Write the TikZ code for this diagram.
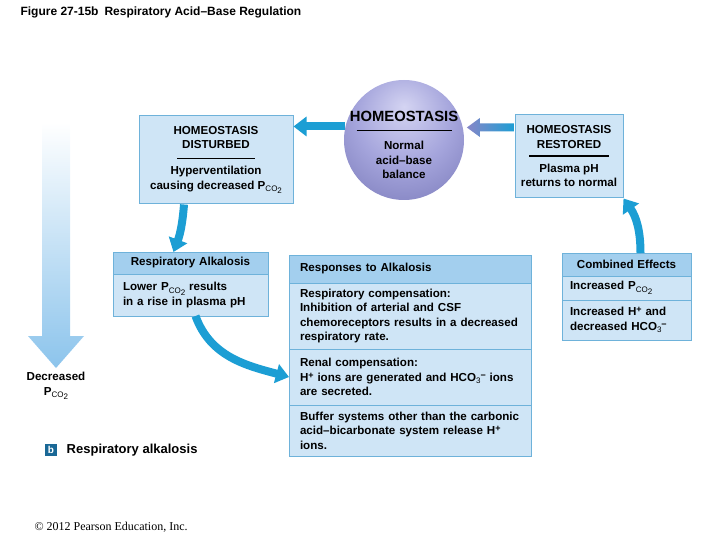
\documentclass[tikz,border=0pt]{standalone}
\usepackage{fontspec}
\setmainfont{Liberation Sans}
\newfontfamily\seriffont{Liberation Serif}
\usetikzlibrary{arrows.meta,positioning,calc,shadings}
\definecolor{boxblue}{RGB}{207,229,246}
\definecolor{headblue}{RGB}{163,207,238}
\definecolor{edgeblue}{RGB}{110,178,218}
\definecolor{flowblue}{RGB}{28,158,212}
\definecolor{sphhi}{RGB}{212,212,242}
\definecolor{sphmid}{RGB}{165,165,220}
\definecolor{sphedge}{RGB}{105,105,172}
\definecolor{arrowpurple}{RGB}{135,135,200}
\definecolor{fadeblue}{RGB}{140,196,236}
\definecolor{tagblue}{RGB}{26,104,150}
\pgfdeclareradialshading{sphere}{\pgfpoint{0bp}{14bp}}{color(0bp)=(sphhi); color(20bp)=(sphmid); color(48bp)=(sphedge); color(64bp)=(sphedge)}
\newcommand{\pcotwo}{P\raisebox{-2.5pt}{\footnotesize\mdseries CO\raisebox{-2pt}{2}}}
\newcommand{\hplus}{H\raisebox{3pt}{\small +}}
\newcommand{\hcothree}{HCO\raisebox{-2.5pt}{\footnotesize\mdseries 3}\raisebox{3pt}{\small −}}

\begin{document}
\begin{tikzpicture}[x=1pt,y=1pt,
          font=\fontsize{11.6}{14.5}\selectfont\bfseries,
          box/.style={draw=edgeblue,fill=boxblue,line width=1pt,align=center,inner sep=0pt},
          row/.style={draw=edgeblue,fill=boxblue,line width=1pt,anchor=north west,
                      align=left,outer sep=0pt,inner ysep=0pt},
          hdr/.style={row,fill=headblue},
          flow/.style={-{Triangle[width=19pt,length=13pt]},line width=8pt,flowblue}
        ]
        \useasboundingbox (0,0) rectangle (720,-540);
        \node[anchor=west,font=\fontsize{12}{14}\selectfont\bfseries] (title) at (17,-12)
             {Figure 27-15b\enspace Respiratory Acid–Base Regulation};

        \node[circle,minimum size=120pt,inner sep=-20pt,shading=sphere,align=center] (home) at (404,-140)
             {\fontsize{14.8}{16}\selectfont\rule{0pt}{21pt}HOMEOSTASIS\\[-5pt]\rule{95pt}{1.6pt}\\[4pt]Normal\\acid–base\\balance};
        \node[box,minimum width=154pt,minimum height=88pt] (dist) at (216,-160)
             {HOMEOSTASIS\\DISTURBED\\[-4pt]\rule{78pt}{1.6pt}\\[1pt]Hyperventilation\\causing decreased \pcotwo};
        \node[box,minimum width=108pt,minimum height=83pt] (restored) at (569,-156.5)
             {HOMEOSTASIS\\RESTORED\\[-6pt]\rule{80pt}{1.6pt}\\[1pt]Plasma pH\\returns to normal};

        \node[hdr,align=center,text width=155pt,minimum height=22pt,inner xsep=0pt] (alkhead) at (113,-252) {Respiratory Alkalosis};
        \node[row,text width=135pt,minimum height=42pt,inner xsep=10pt] (alkbody) at (alkhead.south west)
             {Lower \pcotwo{} results\\in a rise in plasma pH};

        \node[hdr,text width=220pt,minimum height=28pt,inner xsep=11pt] (rhead) at (289,-255) {Responses to Alkalosis};
        \node[row,text width=220pt,minimum height=66pt,inner xsep=11pt] (rresp) at (rhead.south west)
             {Respiratory compensation:\\Inhibition of arterial and CSF\\chemoreceptors results in a decreased\\respiratory rate.};
        \node[row,text width=220pt,minimum height=56pt,inner xsep=11pt] (rrenal) at (rresp.south west)
             {Renal compensation:\\\hplus{} ions are generated and \hcothree{} ions\\are secreted.};
        \node[row,text width=220pt,minimum height=51pt,inner xsep=11pt] (rbuf) at (rrenal.south west)
             {Buffer systems other than the carbonic\\acid–bicarbonate system release \hplus\\ions.};

        \node[hdr,align=center,text width=129pt,minimum height=23pt,inner xsep=0pt] (cmbhead) at (562,-253) {Combined Effects};
        \node[row,text width=113pt,minimum height=24pt,inner xsep=8pt] (cmbpco) at (cmbhead.south west) {Increased \pcotwo};
        \node[row,text width=113pt,minimum height=40pt,inner xsep=8pt] (cmbion) at (cmbpco.south west)
             {Increased \hplus{} and\\decreased \hcothree};

        \node[align=center] (decr) at (56,-386) {Decreased\\\pcotwo};
        \shade[top color=white,bottom color=fadeblue]
             (42,-122) -- (70,-122) -- (70,-336) -- (84,-336) -- (56,-368) -- (28,-336) -- (42,-336) -- cycle;

        \node[fill=tagblue,text=white,minimum size=12pt,inner sep=0pt,font=\fontsize{10}{10}\selectfont\bfseries] (btag) at (51,-450) {b};
        \node[right=6pt of btag,font=\fontsize{13}{15}\selectfont\bfseries] (figname) {Respiratory alkalosis};
        \node[anchor=west,font=\seriffont\fontsize{12}{14}\selectfont] (copy) at (31,-527) {© 2012 Pearson Education, Inc.};

        \coordinate (rtip) at ([xshift=4pt]home.12);
        \coordinate (rend) at (rtip -| restored.west);
        \shade[left color=arrowpurple,right color=flowblue]
             (rtip) -- ++(13,9.5) -- ++(0,-5.5) -- ([yshift=4pt]rend) -- ([yshift=-4pt]rend)
             -- ($(rtip)+(13,-4)$) -- ++(0,-5.5) -- cycle;
        \draw[flow] (home.167) -- (home.167 -| dist.east);
        \draw[flow] ([xshift=-32pt]dist.south) to[bend left=8] ([xshift=-17pt]alkhead.north);
        \draw[flow] ([xshift=5pt]alkbody.south) to[out=-70,in=165] (rrenal.west);
        \draw[flow] ([xshift=14pt]cmbhead.north) to[out=90,in=-55] (restored.south east);
      \end{tikzpicture}
\end{document}
